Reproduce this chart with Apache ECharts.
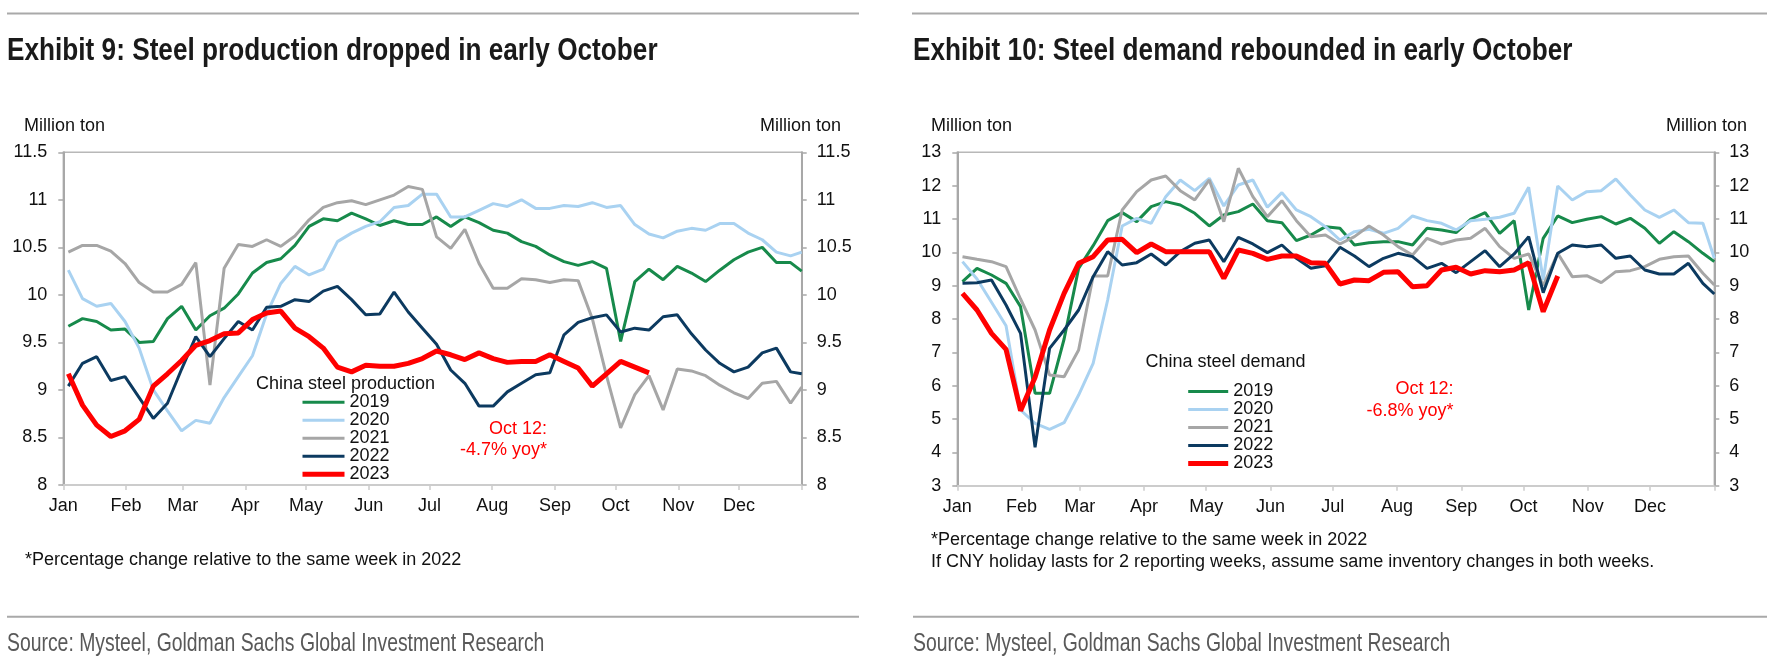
<!DOCTYPE html>
<html>
<head>
<meta charset="utf-8">
<script src="https://cdn.jsdelivr.net/npm/echarts@6/dist/echarts.min.js"></script>
<style>
html,body{margin:0;padding:0;background:#ffffff;}
#c{width:1768px;height:661px;}
</style>
</head>
<body>
<div id="c"></div>
<script>
// ---------- data ----------
const months = ['Jan','Feb','Mar','Apr','May','Jun','Jul','Aug','Sep','Oct','Nov','Dec'];
const monthStartDays = [0,31,59,90,120,151,181,212,243,273,304,334,365];
const years = ['2019','2020','2021','2022','2023'];

// Exhibit 9: weekly steel production (million ton)
const prod2019 = [9.67,9.75,9.72,9.63,9.64,9.50,9.51,9.75,9.88,9.63,9.78,9.86,10.01,10.23,10.34,10.38,10.52,10.72,10.80,10.78,10.86,10.80,10.73,10.78,10.74,10.74,10.82,10.72,10.82,10.76,10.68,10.65,10.56,10.51,10.42,10.35,10.31,10.35,10.28,9.51,10.14,10.27,10.16,10.30,10.23,10.14,10.26,10.37,10.45,10.50,10.34,10.34,10.25];
const prod2020 = [10.26,9.96,9.88,9.91,9.72,9.44,9.00,8.78,8.57,8.68,8.65,8.92,9.14,9.36,9.80,10.12,10.30,10.21,10.27,10.56,10.65,10.72,10.77,10.92,10.94,11.06,11.06,10.82,10.82,10.89,10.96,10.93,11.00,10.91,10.91,10.94,10.93,10.97,10.92,10.94,10.74,10.64,10.60,10.67,10.70,10.68,10.75,10.75,10.65,10.58,10.45,10.41,10.45];
const prod2021 = [10.45,10.52,10.52,10.46,10.33,10.13,10.03,10.03,10.11,10.34,9.05,10.28,10.53,10.51,10.58,10.51,10.62,10.79,10.92,10.97,10.99,10.95,11.00,11.05,11.14,11.11,10.61,10.49,10.69,10.33,10.07,10.07,10.17,10.16,10.13,10.16,10.15,9.75,9.15,8.60,8.95,9.15,8.79,9.22,9.20,9.15,9.05,8.97,8.91,9.07,9.09,8.86,9.03];
const prod2022 = [9.04,9.28,9.35,9.10,9.14,8.92,8.70,8.86,9.22,9.56,9.35,9.54,9.72,9.63,9.87,9.88,9.95,9.93,10.04,10.09,9.95,9.79,9.80,10.03,9.82,9.65,9.48,9.21,9.07,8.83,8.83,8.98,9.07,9.16,9.18,9.58,9.71,9.76,9.79,9.61,9.65,9.63,9.77,9.79,9.59,9.42,9.28,9.19,9.24,9.39,9.44,9.19,9.17];
const prod2023 = [9.17,8.84,8.63,8.51,8.57,8.69,9.04,9.17,9.31,9.47,9.52,9.59,9.60,9.74,9.81,9.83,9.65,9.56,9.44,9.24,9.19,9.26,9.25,9.25,9.28,9.33,9.41,9.37,9.32,9.39,9.33,9.29,9.30,9.30,9.37,9.30,9.23,9.04,9.17,9.30,9.24,9.18];

// Exhibit 10: weekly steel demand (million ton)
const dem2019 = [9.12,9.52,9.32,9.07,8.37,5.77,5.77,7.40,9.52,10.20,10.95,11.19,10.92,11.37,11.52,11.42,11.17,10.79,11.12,11.22,11.45,10.95,10.89,10.35,10.52,10.77,10.72,10.22,10.29,10.32,10.32,10.22,10.72,10.67,10.59,10.99,11.19,10.57,10.95,8.27,10.42,11.09,10.89,10.99,11.07,10.85,11.02,10.72,10.27,10.62,10.32,9.97,9.72];
const dem2020 = [9.72,9.20,8.50,7.80,5.27,4.87,4.69,4.89,5.72,6.67,8.57,10.79,11.02,10.87,11.67,12.17,11.85,12.22,11.39,12.02,12.17,11.35,11.79,11.27,11.07,10.77,10.37,10.62,10.69,10.57,10.72,11.09,10.95,10.87,10.67,10.95,10.99,11.05,11.17,11.95,9.17,11.99,11.57,11.82,11.85,12.20,11.72,11.27,11.05,11.27,10.89,10.87,9.82];
const dem2021 = [9.87,9.79,9.72,9.57,8.60,7.67,6.32,6.27,7.07,9.29,9.29,11.27,11.82,12.17,12.29,11.85,11.57,12.17,10.92,12.52,11.67,11.07,11.55,10.95,10.47,10.52,10.25,10.47,10.79,10.52,10.17,9.92,10.42,10.25,10.37,10.42,10.72,10.17,9.82,9.95,9.00,9.97,9.27,9.30,9.09,9.42,9.45,9.57,9.79,9.87,9.89,9.37,9.02];
const dem2022 = [9.07,9.09,9.17,8.42,7.57,4.15,7.12,7.67,8.27,9.27,10.02,9.62,9.69,9.95,9.62,10.02,10.27,10.37,9.72,10.45,10.25,9.99,10.22,9.82,9.52,9.60,10.15,9.89,9.57,9.82,9.97,9.87,9.52,9.67,9.39,9.72,10.05,9.57,9.95,10.47,8.79,9.97,10.22,10.17,10.22,9.82,9.89,9.47,9.35,9.35,9.67,9.07,8.75];
const dem2023 = [8.77,8.27,7.57,7.09,5.25,6.25,7.67,8.77,9.67,9.87,10.37,10.39,9.99,10.25,10.02,10.02,10.02,10.02,9.22,10.07,9.97,9.79,9.89,9.89,9.69,9.67,9.05,9.17,9.15,9.40,9.42,8.97,9.00,9.47,9.55,9.35,9.45,9.42,9.47,9.69,8.22,9.29];

const prodSeries = [prod2019, prod2020, prod2021, prod2022, prod2023];
const demSeries  = [dem2019, dem2020, dem2021, dem2022, dem2023];

// ---------- style ----------
const lineColors = ['#178a4b', '#a9d2f1', '#a6a6a6', '#0c3a60', '#ff0000'];
const lineWidths = [3, 3, 3, 3, 5];
const SANS = '"Liberation Sans", Arial, Helvetica, sans-serif';
const AXIS_GRAY = '#a8a8a8';

// week index -> day of year (weekly readings)
function weekPoints(vals) {
  return vals.map((v, i) => [Math.min(365, 2.5 + 7 * i), v]);
}

function makeXAxis(gridIndex) {
  return {
    type: 'value', gridIndex, min: 0, max: 365,
    axisLine: { show: true, lineStyle: { color: '#cccccc', width: 2 } },
    axisTick: { show: true, customValues: monthStartDays, length: 5, inside: false, lineStyle: { color: '#cccccc', width: 1.5 } },
    axisLabel: {
      customValues: monthStartDays.slice(0, 12), margin: 12,
      fontSize: 18, fontFamily: SANS, color: '#111',
      formatter: (v) => { const k = monthStartDays.indexOf(v); return k >= 0 && k < 12 ? months[k] : ''; }
    },
    splitLine: { show: false }
  };
}
function makeYAxis(gridIndex, position, min, max, interval) {
  return {
    type: 'value', gridIndex, position, min, max, interval,
    axisLine: { show: true, onZero: false, lineStyle: { color: AXIS_GRAY, width: 2 } },
    axisTick: { show: true, length: 5, inside: false, lineStyle: { color: AXIS_GRAY, width: 1.5 } },
    axisLabel: { fontSize: 18, fontFamily: SANS, color: '#111', margin: position === 'left' ? 16 : 15 },
    splitLine: { show: false }
  };
}

const series = [];
years.forEach((y, k) => {
  series.push({
    name: y, type: 'line', xAxisIndex: 0, yAxisIndex: 0,
    data: weekPoints(prodSeries[k]), symbol: 'none', z: k === 4 ? 5 : 2,
    lineStyle: { color: lineColors[k], width: lineWidths[k] }, itemStyle: { color: lineColors[k] }
  });
});
years.forEach((y, k) => {
  series.push({
    name: y, type: 'line', xAxisIndex: 1, yAxisIndex: 2,
    data: weekPoints(demSeries[k]), symbol: 'none', z: k === 4 ? 5 : 2,
    lineStyle: { color: lineColors[k], width: lineWidths[k] }, itemStyle: { color: lineColors[k] }
  });
});

function txt(x, y, text, opts, scaleX) {
  const el = {
    type: 'text', x, y, silent: true,
    style: Object.assign({
      text, fill: '#111', fontSize: 18, fontFamily: SANS,
      textAlign: 'left', textVerticalAlign: 'middle'
    }, opts || {})
  };
  if (scaleX) { el.scaleX = scaleX; }
  return el;
}
function rule(x1, x2, y) {
  return { type: 'line', silent: true, shape: { x1, y1: y, x2, y2: y }, style: { stroke: '#a9a9a9', lineWidth: 2 } };
}

const TITLE_STYLE = { fontSize: 31, fontWeight: 'bold', fill: '#1a1a1a' };
const SOURCE_STYLE = { fontSize: 25, fill: '#595959' };

const graphics = [
  rule(7, 859, 13.5), rule(912, 1767, 13.5),
  rule(7, 859, 616.7), rule(913, 1767, 616.7),
  txt(7, 51, 'Exhibit 9: Steel production dropped in early October', TITLE_STYLE, 0.845),
  txt(913, 51, 'Exhibit 10: Steel demand rebounded in early October', TITLE_STYLE, 0.845),
  txt(24, 126, 'Million ton'),
  txt(841, 126, 'Million ton', { textAlign: 'right' }),
  txt(931, 126, 'Million ton'),
  txt(1747, 126, 'Million ton', { textAlign: 'right' }),
  txt(345.5, 384, 'China steel production', { textAlign: 'center' }),
  txt(1225.5, 361.7, 'China steel demand', { textAlign: 'center' }),
  txt(547, 429.5, 'Oct 12:', { textAlign: 'right', fill: '#ff0000' }),
  txt(547, 450.5, '-4.7% yoy*', { textAlign: 'right', fill: '#ff0000' }),
  txt(1453.5, 389.5, 'Oct 12:', { textAlign: 'right', fill: '#ff0000' }),
  txt(1453.5, 410.7, '-6.8% yoy*', { textAlign: 'right', fill: '#ff0000' }),
  txt(25, 560, '*Percentage change relative to the same week in 2022'),
  txt(931, 540, '*Percentage change relative to the same week in 2022'),
  txt(931, 561.7, 'If CNY holiday lasts for 2 reporting weeks, assume same inventory changes in both weeks.'),
  txt(7, 644, 'Source: Mysteel, Goldman Sachs Global Investment Research', SOURCE_STYLE, 0.775),
  txt(913, 644, 'Source: Mysteel, Goldman Sachs Global Investment Research', SOURCE_STYLE, 0.775)
];

const legendItems = years.map((y, k) => ({ name: y, lineStyle: { width: lineWidths[k] } }));
const legendBase = {
  orient: 'vertical', itemGap: 0, padding: 0, selectedMode: false,
  data: legendItems,
  itemStyle: { opacity: 0 },
  textStyle: { fontSize: 18, fontFamily: SANS, color: '#111' }
};

const option = {
  animation: false,
  backgroundColor: '#ffffff',
  grid: [
    { left: 63.3, top: 152.3, width: 738.4, height: 332.7, show: true, borderColor: '#b8b8b8', borderWidth: 1.5 },
    { left: 957.3, top: 152.3, width: 757, height: 333.4, show: true, borderColor: '#b8b8b8', borderWidth: 1.5 }
  ],
  xAxis: [makeXAxis(0), makeXAxis(1)],
  yAxis: [
    makeYAxis(0, 'left', 8, 11.5, 0.5), makeYAxis(0, 'right', 8, 11.5, 0.5),
    makeYAxis(1, 'left', 3, 13, 1), makeYAxis(1, 'right', 3, 13, 1)
  ],
  legend: [
    Object.assign({}, legendBase, { left: 300, top: 393.2, itemWidth: 42, itemHeight: 18.8 }),
    Object.assign({}, legendBase, { left: 1185.7, top: 382.4, itemWidth: 40, itemHeight: 18.6 })
  ],
  series,
  graphic: graphics
};

const chart = echarts.init(document.getElementById('c'), null, { renderer: 'canvas' });
chart.setOption(option);
</script>
</body>
</html>
